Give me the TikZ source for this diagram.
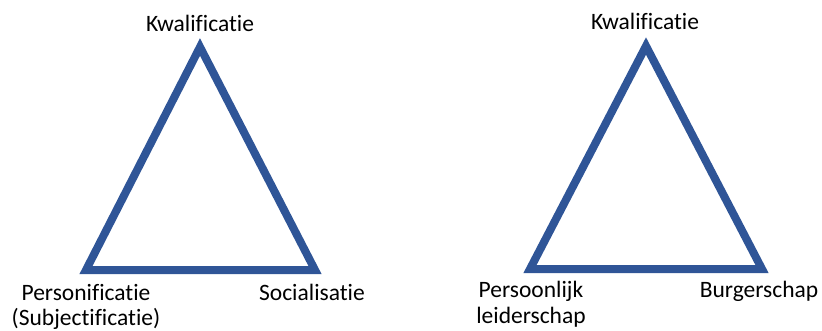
\documentclass[tikz,border=0pt]{standalone}
\usepackage{fontspec}
\setmainfont{Carlito}[RawFeature={-liga;-clig}]
\definecolor{triblue}{HTML}{2F5597}

\begin{document}
\begin{tikzpicture}[x=1pt,y=-1pt,
    side/.style={draw=triblue,line width=8pt,line join=miter},
    pole/.style={font=\fontsize{23.5}{25}\selectfont,inner sep=0pt,anchor=base,align=center}]
                \useasboundingbox (0,0) rectangle (822,331);
                % left triangle
                \coordinate (LA) at (200,47);
                \coordinate (LB) at (86,270);
                \coordinate (LC) at (315,270);
                \draw[side] (LA) -- (LB) -- (LC) -- cycle;
                \node[pole] (kwalL) at (200,32) {Kwalificatie};
                \node[pole] (persL) at (86,325) {Personificatie\\(Subjectificatie)};
                \node[pole] (socL) at (312,300) {Socialisatie};
                % right triangle
                \coordinate (RA) at (646,46);
                \coordinate (RB) at (530,269);
                \coordinate (RC) at (762,269);
                \draw[side] (RA) -- (RB) -- (RC) -- cycle;
                \node[pole] (kwalR) at (645,30) {Kwalificatie};
                \node[pole] (persR) at (531,323) {Persoonlijk\\leiderschap};
                \node[pole] (burgR) at (759,298) {Burgerschap};
\end{tikzpicture}
\end{document}
